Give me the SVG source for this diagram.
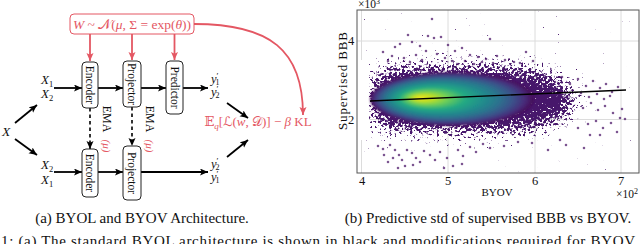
<svg xmlns="http://www.w3.org/2000/svg" width="640" height="244" viewBox="0 0 640 244">
<style>
text{font-family:"Liberation Serif","DejaVu Serif","DejaVu Sans",serif;fill:#111}
.box{fill:#fff;stroke:#222;stroke-width:1}
.lbl{font-size:11.5px;text-anchor:middle}
.pk{fill:#e45763}
.pkbox{fill:#fff;stroke:#e45763;stroke-width:1}
.ar{fill:none;stroke:#000;stroke-width:1.8;marker-end:url(#ah)}
.dash{fill:none;stroke:#000;stroke-width:1.6;stroke-dasharray:3.5 3;marker-end:url(#ah)}
.par{fill:none;stroke:#e45763;stroke-width:1.8;marker-end:url(#ahp)}
.it{font-style:italic}
.cap{font-size:15px;text-anchor:middle}
.tick{font-size:12.5px;text-anchor:middle}
.grid{stroke:#dcdcdc;stroke-width:1}
</style>
<defs>
<marker id="ah" markerWidth="9" markerHeight="8" refX="8" refY="3.5" orient="auto" markerUnits="userSpaceOnUse"><path d="M0,0 L8,3.5 L0,7 L1.8,3.5 z" fill="#000"/></marker>
<marker id="ahp" markerWidth="9" markerHeight="8" refX="8" refY="3.5" orient="auto" markerUnits="userSpaceOnUse"><path d="M0,0 L8,3.5 L0,7 L1.8,3.5 z" fill="#e45763"/></marker>
<radialGradient id="dens" cx="0.5" cy="0.5" r="0.5" fx="0.3" fy="0.48">
<stop offset="0" stop-color="#f3e51f"/>
<stop offset="0.12" stop-color="#c2df23"/>
<stop offset="0.25" stop-color="#6ece58"/>
<stop offset="0.4" stop-color="#25ab82"/>
<stop offset="0.55" stop-color="#1f8f8c"/>
<stop offset="0.7" stop-color="#2c728e"/>
<stop offset="0.82" stop-color="#3b518a"/>
<stop offset="0.92" stop-color="#472c7a"/>
<stop offset="1" stop-color="#450b57"/>
</radialGradient>
<filter id="soft" x="-10%" y="-20%" width="120%" height="140%"><feGaussianBlur stdDeviation="0.8"/></filter>
<filter id="speck" x="-40%" y="-100%" width="180%" height="300%" color-interpolation-filters="sRGB">
<feGaussianBlur in="SourceAlpha" stdDeviation="12" result="b"/>
<feTurbulence type="fractalNoise" baseFrequency="0.38" numOctaves="2" seed="11" result="n"/>
<feColorMatrix in="n" type="matrix" values="0 0 0 0 0  0 0 0 0 0  0 0 0 0 0  1 0 0 0 0" result="na"/>
<feComposite in="na" in2="b" operator="arithmetic" k1="0" k2="10" k3="6.25" k4="-8.125" result="m"/>
<feFlood flood-color="#47176b" result="f"/>
<feComposite in="f" in2="m" operator="in"/>
</filter>
<clipPath id="axclip"><rect x="357" y="10" width="282" height="163"/></clipPath>
</defs>

<g id="connectors">
<path class="par" d="M90,34 V61"/>
<path class="par" d="M132,34 V60"/>
<path class="par" d="M174.5,34 V60"/>
<path class="par" d="M194,24 C270,24 303,50 303,115"/>
<path class="ar" d="M15,123 L37,105"/>
<path class="ar" d="M15,139 L37,155"/>
<path class="ar" d="M54,88 H82"/>
<path class="ar" d="M98,88 H123"/>
<path class="ar" d="M141,88 H166"/>
<path class="ar" d="M183,88 H208"/>
<path class="ar" d="M54,172 H82"/>
<path class="ar" d="M98,172 H123"/>
<path class="ar" d="M141,172 H208"/>
<path class="dash" d="M90,108 V149"/>
<path class="dash" d="M132,107 V146"/>
<path class="ar" d="M227,103 L248,118"/>
<path class="ar" d="M227,157 L248,140"/>
</g>

<g id="node-prior">
<rect class="pkbox" x="70" y="14" width="124" height="20" rx="4"/>
<text class="pk" x="132" y="28.5" font-size="13.5" text-anchor="middle"><tspan class="it">W</tspan> ~ 𝒩(<tspan class="it">μ</tspan>, Σ = exp(<tspan class="it">θ</tspan>))</text>
</g>

<g id="node-encoder-online">
<rect class="box" x="82" y="62" width="16" height="46" rx="4"/>
<text class="lbl" transform="translate(90,85) rotate(90)" y="4">Encoder</text>
</g>
<g id="node-projector-online">
<rect class="box" x="123" y="61" width="18" height="46" rx="4"/>
<text class="lbl" transform="translate(132,84) rotate(90)" y="4">Projector</text>
</g>
<g id="node-predictor">
<rect class="box" x="166" y="61" width="17" height="53" rx="4"/>
<text class="lbl" transform="translate(174.5,87.5) rotate(90)" y="4">Predictor</text>
</g>
<g id="node-encoder-target">
<rect class="box" x="82" y="149" width="16" height="48" rx="4"/>
<text class="lbl" transform="translate(90,173) rotate(90)" y="4">Encoder</text>
</g>
<g id="node-projector-target">
<rect class="box" x="123" y="146" width="18" height="54" rx="4"/>
<text class="lbl" transform="translate(132,173) rotate(90)" y="4">Projector</text>
</g>

<g id="ema-labels">
<text transform="translate(107,119) rotate(90)" y="4" font-size="12" text-anchor="middle">EMA</text>
<text class="pk it" transform="translate(107,146) rotate(90)" y="4" font-size="11" text-anchor="middle">(μ)</text>
<text transform="translate(149.5,119) rotate(90)" y="4" font-size="12" text-anchor="middle">EMA</text>
<text class="pk it" transform="translate(149.5,146) rotate(90)" y="4" font-size="11" text-anchor="middle">(μ)</text>
</g>

<g id="node-x">
<text class="it" x="2" y="135.5" font-size="13.5">X</text>
</g>
<g id="node-views-online" font-size="13">
<text x="41" y="84"><tspan class="it">X</tspan><tspan font-size="8.5" dy="2.5">1</tspan></text>
<text x="41" y="98"><tspan class="it">X</tspan><tspan font-size="8.5" dy="2.5">2</tspan></text>
</g>
<g id="node-views-target" font-size="13">
<text x="41" y="169"><tspan class="it">X</tspan><tspan font-size="8.5" dy="2.5">2</tspan></text>
<text x="41" y="184"><tspan class="it">X</tspan><tspan font-size="8.5" dy="2.5">1</tspan></text>
</g>
<g id="node-out-online" font-size="12.5">
<text x="211" y="83"><tspan class="it">y</tspan><tspan font-size="9" dy="-4">′</tspan><tspan font-size="8" dx="-3" dy="6">1</tspan></text>
<text x="211" y="96"><tspan class="it">y</tspan><tspan font-size="9" dy="-4">′</tspan><tspan font-size="8" dx="-3" dy="6">2</tspan></text>
</g>
<g id="node-out-target" font-size="12.5">
<text x="211" y="168"><tspan class="it">y</tspan><tspan font-size="9" dy="-4">′</tspan><tspan font-size="8" dx="-3" dy="6">2</tspan></text>
<text x="211" y="181"><tspan class="it">y</tspan><tspan font-size="9" dy="-4">′</tspan><tspan font-size="8" dx="-3" dy="6">1</tspan></text>
</g>
<g id="node-loss">
<text class="pk" x="258" y="125.5" font-size="13" text-anchor="middle">𝔼<tspan class="it" font-size="9" dy="3">q</tspan><tspan dy="-3">[ℒ(</tspan><tspan class="it">w</tspan>, 𝒟)] − <tspan class="it">β</tspan> KL</text>
</g>

<text class="cap" x="142" y="223">(a) BYOL and BYOV Architecture.</text>

<g id="plot">
<line class="grid" x1="361.5" y1="10" x2="361.5" y2="173"/>
<line class="grid" x1="448" y1="10" x2="448" y2="173"/>
<line class="grid" x1="535" y1="10" x2="535" y2="173"/>
<line class="grid" x1="621" y1="10" x2="621" y2="173"/>
<line class="grid" x1="357" y1="41" x2="639" y2="41"/>
<line class="grid" x1="357" y1="119.5" x2="639" y2="119.5"/>
<g clip-path="url(#axclip)">
<path d="M370,84 C370,74 380,68 400,67 L500,66 C540,67 560,76 572,90 C580,99 580,104 572,112 C560,124 540,131 500,132 L400,131 C380,130 370,124 370,114 Z" fill="#000" filter="url(#speck)"/>
<rect x="357" y="60" width="12" height="80" fill="#fff"/>
</g>
<ellipse cx="452" cy="99" rx="82" ry="27" fill="url(#dens)" filter="url(#soft)"/>
<path fill="none" stroke="#4a1467" stroke-opacity="0.72" stroke-width="2.6" stroke-linecap="round" d="M432,19h0M408,35h0M428,36h0M434,38h0M441,37h0M490,39h0M400,44h0M395,47h0M412,42h0M420,46h0M448,45h0M455,51h0M462,48h0M470,55h0M478,57h0M383,52h0M392,56h0M404,58h0M416,55h0M426,51h0M437,54h0M445,58h0M452,61h0M465,61h0M486,59h0M497,56h0M505,60h0M514,62h0M526,52h0M520,63h0M533,61h0M388,61h0M410,62h0M422,60h0M458,64h0M474,64h0M482,62h0M493,63h0M555,82h0M562,77h0M570,84h0M578,79h0M586,86h0M593,81h0M600,88h0M606,84h0M612,92h0M618,87h0M581,93h0M589,97h0M597,94h0M604,99h0M610,96h0M583,108h0M591,103h0M598,110h0M605,106h0M613,113h0M620,118h0M588,124h0M596,121h0M603,128h0M611,123h0M622,109h0M617,132h0M578,128h0M590,135h0M560,140h0M566,145h0M584,148h0M600,135h0M625,119h0M390,145h0M395,150h0M399,155h0M393,158h0M384,155h0M388,162h0M402,160h0M407,150h0M412,153h0M416,158h0M420,162h0M424,151h0M430,155h0M435,160h0M440,152h0M447,158h0M453,166h0M458,150h0M463,156h0M470,147h0M476,152h0M483,144h0M490,148h0M504,146h0M518,142h0M532,143h0M378,146h0M383,149h0M405,166h0M398,168h0M413,165h0M444,168h0M462,164h0M548,150h0"/>
<line x1="370" y1="101" x2="626" y2="90" stroke="#000" stroke-width="1.4"/>
<rect x="357" y="10" width="282" height="163" fill="none" stroke="#555" stroke-width="1"/>
<text class="tick" x="362" y="185">4</text>
<text class="tick" x="448" y="185">5</text>
<text class="tick" x="535" y="185">6</text>
<text class="tick" x="621" y="185">7</text>
<text class="tick" x="351" y="45">4</text>
<text class="tick" x="351" y="124">2</text>
<text x="497" y="196" font-size="11" text-anchor="middle">BYOV</text>
<text transform="translate(347,81) rotate(-90)" font-size="13" text-anchor="middle" textLength="98" lengthAdjust="spacing">Supervised BBB</text>
<text x="616" y="198" font-size="11.5">×10<tspan font-size="8" dy="-4">2</tspan></text>
<text x="358" y="8" font-size="11.5">×10<tspan font-size="8" dy="-4">3</tspan></text>
</g>

<text class="cap" x="488" y="223">(b) Predictive std of supervised BBB vs BYOV.</text>
<text x="1" y="246" font-size="15" textLength="634" lengthAdjust="spacing">1:  (a) The standard BYOL architecture is shown in black and modifications required for BYOV</text>
</svg>
